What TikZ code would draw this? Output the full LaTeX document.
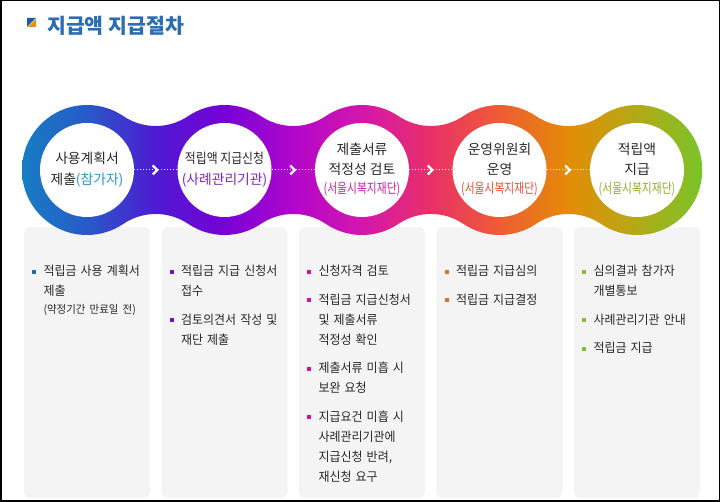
\documentclass[tikz,border=0pt]{standalone}
\usepackage{fontspec}
\setmainfont{Noto Sans CJK KR}
\newfontfamily\krnarrow[FakeStretch=0.78]{Noto Sans CJK KR}
\newfontfamily\krsemi[FakeStretch=0.86]{Noto Sans CJK KR}
\newfontfamily\krpanel[FakeStretch=0.95,WordSpace=0.6]{Noto Sans CJK KR}
\usepackage{tikz}
\usetikzlibrary{positioning,decorations.markings}

\definecolor{titleblue}{RGB}{43,108,179}
\definecolor{iconblue}{RGB}{30,90,165}
\definecolor{iconorange}{RGB}{232,144,26}
\definecolor{textgray}{RGB}{40,40,40}
\definecolor{panelgray}{RGB}{244,244,244}
\definecolor{band0}{RGB}{22,125,195}
\definecolor{band1}{RGB}{40,90,200}
\definecolor{band2}{RGB}{78,26,210}
\definecolor{band3}{RGB}{118,2,214}
\definecolor{band4}{RGB}{178,6,204}
\definecolor{band5}{RGB}{212,22,172}
\definecolor{band6}{RGB}{233,48,104}
\definecolor{band7}{RGB}{238,92,52}
\definecolor{band8}{RGB}{228,140,6}
\definecolor{band9}{RGB}{178,170,22}
\definecolor{band10}{RGB}{122,196,42}
\definecolor{subA}{RGB}{42,150,210}
\definecolor{subB}{RGB}{128,36,200}
\definecolor{subC}{RGB}{200,36,168}
\definecolor{subD}{RGB}{234,78,60}
\definecolor{subE}{RGB}{148,174,40}
\definecolor{bulA}{RGB}{30,110,180}
\definecolor{bulB}{RGB}{118,20,200}
\definecolor{bulC}{RGB}{200,20,170}
\definecolor{bulD}{RGB}{222,112,40}
\definecolor{bulE}{RGB}{140,190,50}

\pgfdeclarehorizontalshading{flowband}{100bp}{color(0bp)=(band0); color(25bp)=(band0);
  color(29.8bp)=(band1); color(34.8bp)=(band2); color(39.9bp)=(band3); color(44.9bp)=(band4);
  color(50bp)=(band5); color(55bp)=(band6); color(60.1bp)=(band7); color(65.2bp)=(band8);
  color(70.2bp)=(band9); color(75bp)=(band10); color(100bp)=(band10)}

\newcommand{\lnstrut}{\rule[-6pt]{0pt}{20pt}}

\begin{document}
\begin{tikzpicture}[x=1pt,y=1pt]
\tikzstyle{stage}=[circle,fill=white,minimum size=94pt,inner sep=0pt,align=center,text=textgray,font=\fontsize{13.8}{21}\selectfont]
\tikzstyle{stagethree}=[stage,font=\fontsize{13.8}{19.5}\selectfont]
\tikzstyle{panel}=[rectangle,rounded corners=6pt,fill=panelgray,minimum width=126pt,minimum height=271pt,inner sep=0pt]
\tikzstyle{bulletitem}=[anchor=north west,inner sep=0pt,text width=108pt,align=left,text=textgray,
  font=\krpanel\fontsize{12.6}{20}\selectfont,execute at begin node=\lnstrut,execute at end node=\lnstrut]
\tikzstyle{flowline}=[white,line width=1pt,dash pattern=on 1pt off 2pt,decoration={markings,
  mark=at position 0.5 with
  {
    \draw [white,solid,line width=2.2pt] (-3pt,4.5pt) -- (1.5pt,0pt) -- (-3pt,-4.5pt);
  }
}, postaction={decorate}]

\useasboundingbox (0,0) rectangle (720,502);

% title
\fill [iconblue] (27,484) -- (36,484) -- (27,475) -- cycle;
\fill [iconorange] (36,483) -- (36,475) -- (28,475) -- cycle;
\node (title) [anchor=west,inner sep=0pt,text=titleblue,font=\fontsize{20.5}{24}\bfseries\selectfont] at (47,476) {지급액 지급절차};

% panels
\node (p1) [panel] at (87,139.5) {};
\node (p2) [panel] at (224.5,139.5) {};
\node (p3) [panel] at (362,139.5) {};
\node (p4) [panel] at (499.5,139.5) {};
\node (p5) [panel] at (637,139.5) {};

% gradient band
\shade [shading=flowband] (22,332) arc (180:90:65pt) arc (90:56:65pt)
  arc (236:304:58pt) arc (124:56:65pt)
  arc (236:304:58pt) arc (124:56:65pt)
  arc (236:304:58pt) arc (124:56:65pt)
  arc (236:304:58pt) arc (124:90:65pt) arc (90:0:65pt) arc (0:-90:65pt) arc (-90:-124:65pt)
  arc (56:124:58pt) arc (-56:-124:65pt)
  arc (56:124:58pt) arc (-56:-124:65pt)
  arc (56:124:58pt) arc (-56:-124:65pt)
  arc (56:124:58pt) arc (-56:-90:65pt) arc (-90:-180:65pt) -- cycle;

% stages
\node (s1) [stage] at (87,332) {사용계획서\\제출{\color{subA}(참가자)}};
\node (s2) [stage] at (224.5,332) {{\krsemi 적립액 지급신청}\\{\color{subB}(사례관리기관)}};
\node (s3) [stagethree] at (362,332) {제출서류\\적정성 검토\\{\krnarrow\color{subC}(서울시복지재단)}};
\node (s4) [stagethree] at (499.5,332) {운영위원회\\운영\\{\krnarrow\color{subD}(서울시복지재단)}};
\node (s5) [stagethree] at (637,332) {적립액\\지급\\{\krnarrow\color{subE}(서울시복지재단)}};

\foreach \a/\b in {s1/s2,s2/s3,s3/s4,s4/s5}
  \draw [flowline] (\a) -- (\b);

% panel items
\node (a1) [bulletitem] at ([xshift=19.5pt,yshift=-35pt]p1.north west) {적립금 사용 계획서\\제출\\[-2pt]{\fontsize{11}{18}\selectfont(약정기간 만료일 전)}};

\node (b1) [bulletitem] at ([xshift=19.5pt,yshift=-35pt]p2.north west) {적립금 지급 신청서\\접수};
\node (b2) [bulletitem,below=8pt of b1.south west,anchor=north west] {검토의견서 작성 및\\재단 제출};

\node (c1) [bulletitem] at ([xshift=19.5pt,yshift=-35pt]p3.north west) {신청자격 검토};
\node (c2) [bulletitem,below=8pt of c1.south west,anchor=north west] {적립금 지급신청서\\및 제출서류\\적정성 확인};
\node (c3) [bulletitem,below=8pt of c2.south west,anchor=north west] {제출서류 미흡 시\\보완 요청};
\node (c4) [bulletitem,below=8pt of c3.south west,anchor=north west] {지급요건 미흡 시\\사례관리기관에\\지급신청 반려,\\재신청 요구};

\node (d1) [bulletitem] at ([xshift=19.5pt,yshift=-35pt]p4.north west) {적립금 지급심의};
\node (d2) [bulletitem,below=8pt of d1.south west,anchor=north west] {적립금 지급결정};

\node (e1) [bulletitem] at ([xshift=19.5pt,yshift=-35pt]p5.north west) {심의결과 참가자\\개별통보};
\node (e2) [bulletitem,below=8pt of e1.south west,anchor=north west] {사례관리기관 안내};
\node (e3) [bulletitem,below=8pt of e2.south west,anchor=north west] {적립금 지급};

\foreach \n/\c in {a1/bulA,b1/bulB,b2/bulB,c1/bulC,c2/bulC,c3/bulC,c4/bulC,d1/bulD,d2/bulD,e1/bulE,e2/bulE,e3/bulE}
  \fill [\c] ([xshift=-11pt,yshift=-8pt]\n.north west) rectangle ++(4pt,-4pt);

% frame
\draw [line width=1.5pt] (0.75,0.75) rectangle (719.25,501.25);
\end{tikzpicture}
\end{document}
